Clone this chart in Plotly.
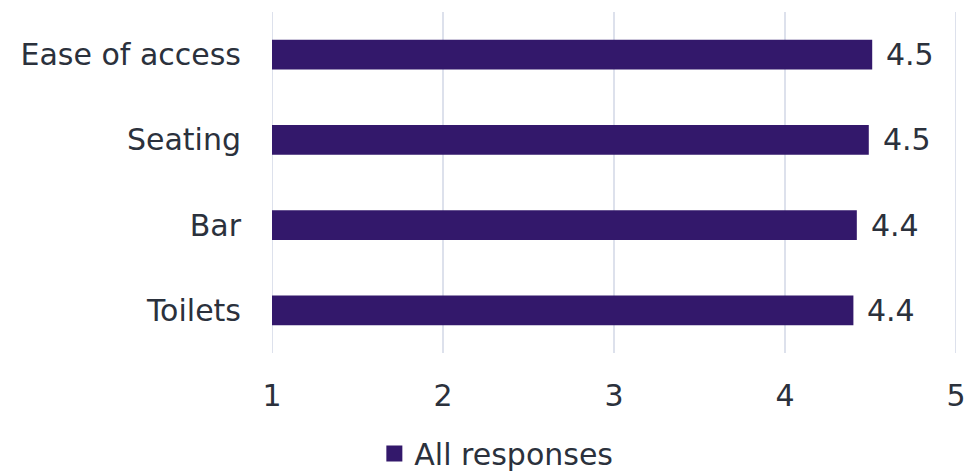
import plotly.graph_objects as go

categories = ["Ease of access", "Seating", "Bar", "Toilets"]
values = [4.51, 4.49, 4.42, 4.40]
labels = ["4.5", "4.5", "4.4", "4.4"]
series_name = "All responses"
x_ticks = [1, 2, 3, 4, 5]

BAR = "#33186b"
TEXT = "#2b313c"
GRID = "#dde1ec"
FONT = "DejaVu Sans"
FS = 30

fig = go.Figure()
fig.add_trace(go.Bar(
    y=categories, x=values, orientation="h", name=series_name,
    marker=dict(color=BAR, line=dict(width=0)), width=0.35,
    showlegend=False,
))
# legend entry for the series (larger square swatch)
fig.add_trace(go.Scatter(
    x=[None], y=[None], mode="markers", name=series_name,
    marker=dict(symbol="square", size=18, color=BAR), showlegend=True,
))
for c, v, t in zip(categories, values, labels):
    fig.add_annotation(x=v, y=c, text=t, showarrow=False, xanchor="left",
                       xshift=12, font=dict(family=FONT, size=FS, color=TEXT))
for t in x_ticks:
    fig.add_shape(type="line", x0=t, x1=t, y0=0, y1=1, xref="x", yref="paper",
                  line=dict(color=GRID, width=2), layer="below")

fig.update_layout(
    width=969, height=472,
    margin=dict(l=272, r=13, t=12, b=119, autoexpand=False),
    paper_bgcolor="white", plot_bgcolor="white",
    font=dict(family=FONT, size=FS, color=TEXT),
    xaxis=dict(range=[1, 5], tickvals=x_ticks, showgrid=False,
               zeroline=False, showline=False, ticks="",
               ticklabelstandoff=22, tickfont=dict(size=FS, color=TEXT),
               automargin=False),
    yaxis=dict(categoryorder="array", categoryarray=categories[::-1],
               showgrid=False, zeroline=False, showline=False, ticks="",
               ticklabelstandoff=30, tickfont=dict(size=FS, color=TEXT),
               automargin=False),
    legend=dict(orientation="h", x=0.328, xanchor="center", y=-0.295,
                yanchor="middle", font=dict(size=FS, color=TEXT),
                itemwidth=30, itemsizing="trace"),
    bargap=0.65,
)
fig.write_html("out.html")
